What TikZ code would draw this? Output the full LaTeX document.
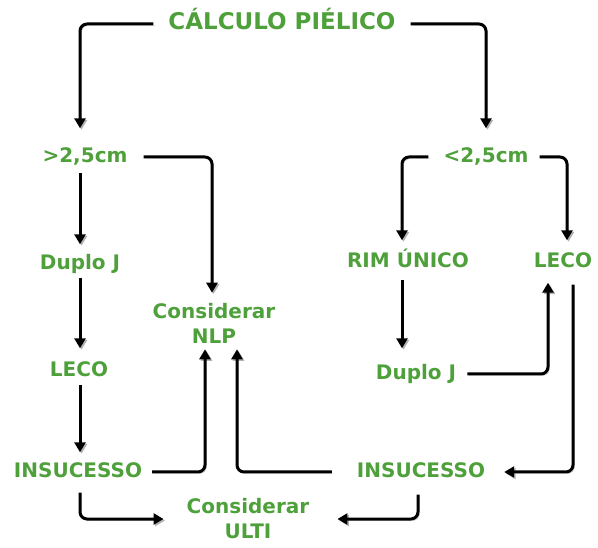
\documentclass[tikz,border=0pt]{standalone}
\usepackage{fontspec}
\usetikzlibrary{arrows.meta}
\newfontfamily\flowfont{DejaVu Sans}
\definecolor{leafgreen}{RGB}{78,160,58}
\tikzset{
	lbl/.style={text=leafgreen, font=\flowfont\bfseries\fontsize{20}{25}\selectfont, inner xsep=6pt, inner ysep=0pt, text height=15pt, text depth=4pt},
	lbltwo/.style={text=leafgreen, font=\flowfont\bfseries\fontsize{20}{25}\selectfont, inner xsep=6pt, inner ysep=0pt, align=center},
	flow/.style={draw, line width=3pt, rounded corners=7pt, -{Triangle[width=11pt,length=10pt]}, shorten <=5pt, shorten >=12pt,
		preaction={draw=black!30, transform canvas={shift={(1.5pt,-1.5pt)}}}}
}
\begin{document}
\begin{tikzpicture}[x=1pt,y=-1pt]
	\useasboundingbox (0,0) rectangle (598,548);
	\node[lbl, font=\flowfont\bfseries\fontsize{23}{25}\selectfont] (calc) at (282,24) {CÁLCULO PIÉLICO};
	\node[lbl] (gt) at (85,157) {>2,5cm};
	\node[lbl] (lt) at (486,157) {<2,5cm};
	\node[lbl] (dj1) at (80,264) {Duplo J};
	\node[lbltwo] (nlp) at (214,323) {Considerar\\NLP};
	\node[lbl] (rim) at (408,262) {RIM ÚNICO};
	\node[lbl] (leco2) at (563,262) {LECO};
	\node[lbl] (leco1) at (79,371) {LECO};
	\node[lbl] (dj2) at (416,374) {Duplo J};
	\node[lbl] (ins1) at (78,472) {INSUCESSO};
	\node[lbl] (ins2) at (421,472) {INSUCESSO};
	\node[lbltwo] (ulti) at (248,519) {Considerar\\ULTI};

	\draw[flow, shorten <=9pt, shorten >=19pt] (calc.west) -| (dj1 |- gt.north);
	\draw[flow, shorten <=9pt, shorten >=19pt] (calc.east) -| (lt.north);
	\draw[flow, shorten <=10pt, shorten >=10pt] (gt.east) -| ([xshift=-2]nlp.north);
	\draw[flow, shorten <=6pt, shorten >=10pt] (gt.south -| dj1) -- (dj1.north);
	\draw[flow, shorten <=4pt, shorten >=13pt] (dj1.south) -- (leco1.north -| dj1);
	\draw[flow, shorten <=4pt, shorten >=10pt] (leco1.south -| dj1) -- (ins1.north -| dj1);
	\draw[flow, shorten <=9pt, shorten >=12pt] (lt.west) -| ([xshift=-6]rim.north);
	\draw[flow, shorten <=5pt, shorten >=12pt] (lt.east) -| ([xshift=4]leco2.north);
	\draw[flow, shorten <=8pt, shorten >=16pt] ([xshift=-6]rim.south) -- ([xshift=-6]rim.south |- dj2.north);
	\draw[flow, shorten <=5pt, shorten >=11pt] (dj2.east) -| ([xshift=-15]leco2.south);
	\draw[flow, shorten <=13pt, shorten >=13pt] ([xshift=10]leco2.south) |- (ins2.east);
	\draw[flow, shorten <=4pt, shorten >=6pt] (ins1.east) -| ([xshift=-9]nlp.south);
	\draw[flow, shorten <=19pt, shorten >=6pt] (ins2.west) -| ([xshift=23]nlp.south);
	\draw[flow, shorten <=11pt, shorten >=17pt] ([xshift=2]ins1.south) |- (ulti.west);
	\draw[flow, shorten <=13pt, shorten >=22pt] ([xshift=-3]ins2.south) |- (ulti.east);
\end{tikzpicture}
\end{document}
